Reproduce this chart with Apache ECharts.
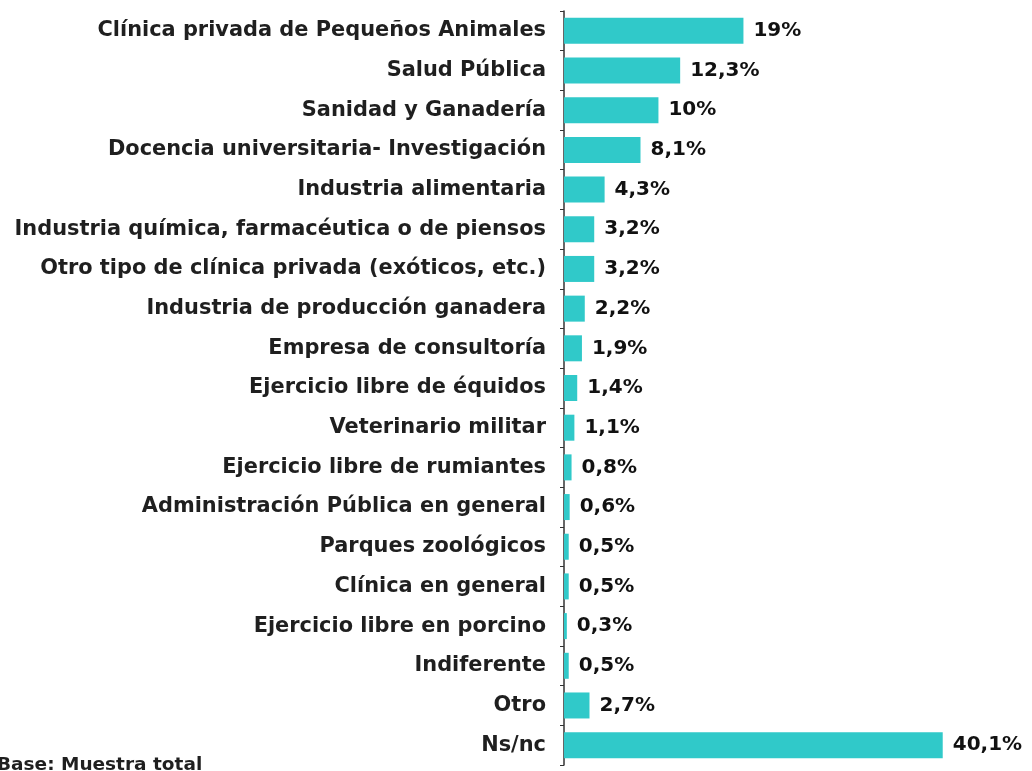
<!DOCTYPE html>
<html><head><meta charset="utf-8">
<script src="https://cdn.jsdelivr.net/npm/echarts@6/dist/echarts.min.js"></script>
<style>html,body{margin:0;padding:0;background:#fff}#c{width:1032px;height:771px}</style>
</head><body><div id="c"></div>
<script>
var categories = ["Clínica privada de Pequeños Animales","Salud Pública","Sanidad y Ganadería","Docencia universitaria- Investigación","Industria alimentaria","Industria química, farmacéutica o de piensos","Otro tipo de clínica privada (exóticos, etc.)","Industria de producción ganadera","Empresa de consultoría","Ejercicio libre de équidos","Veterinario militar","Ejercicio libre de rumiantes","Administración Pública en general","Parques zoológicos","Clínica en general","Ejercicio libre en porcino","Indiferente","Otro","Ns/nc"];
var values = [19,12.3,10,8.1,4.3,3.2,3.2,2.2,1.9,1.4,1.1,0.8,0.6,0.5,0.5,0.3,0.5,2.7,40.1];
var footnote = "Base: Muestra total";

var chart = echarts.init(document.getElementById('c'));
chart.setOption({
  animation:false,
  grid:{left:564,top:11,width:425,height:754,containLabel:false},
  xAxis:{type:'value',min:0,max:45,show:false},
  yAxis:{type:'category',data:categories,inverse:true,
    axisLine:{show:true,lineStyle:{color:'#333',width:1.5}},
    axisTick:{show:true,length:4,lineStyle:{color:'#333'}},
    axisLabel:{margin:18,color:'#1f1f1f',fontFamily:'DejaVu Sans',fontWeight:'bold',fontSize:20.9}
  },
  series:[{type:'bar',data:values,barWidth:26,
    itemStyle:{color:'#30c9c9'},
    label:{show:true,position:'right',distance:10,color:'#111',fontFamily:'DejaVu Sans',fontWeight:'bold',fontSize:20,
      formatter:function(p){return String(p.value).replace('.',',')+'%';}}
  }],
  graphic:[{type:'text',left:-3,top:756,style:{text:footnote,fill:'#1f1f1f',font:'bold 18.5px "DejaVu Sans"'}}]
});
</script></body></html>
